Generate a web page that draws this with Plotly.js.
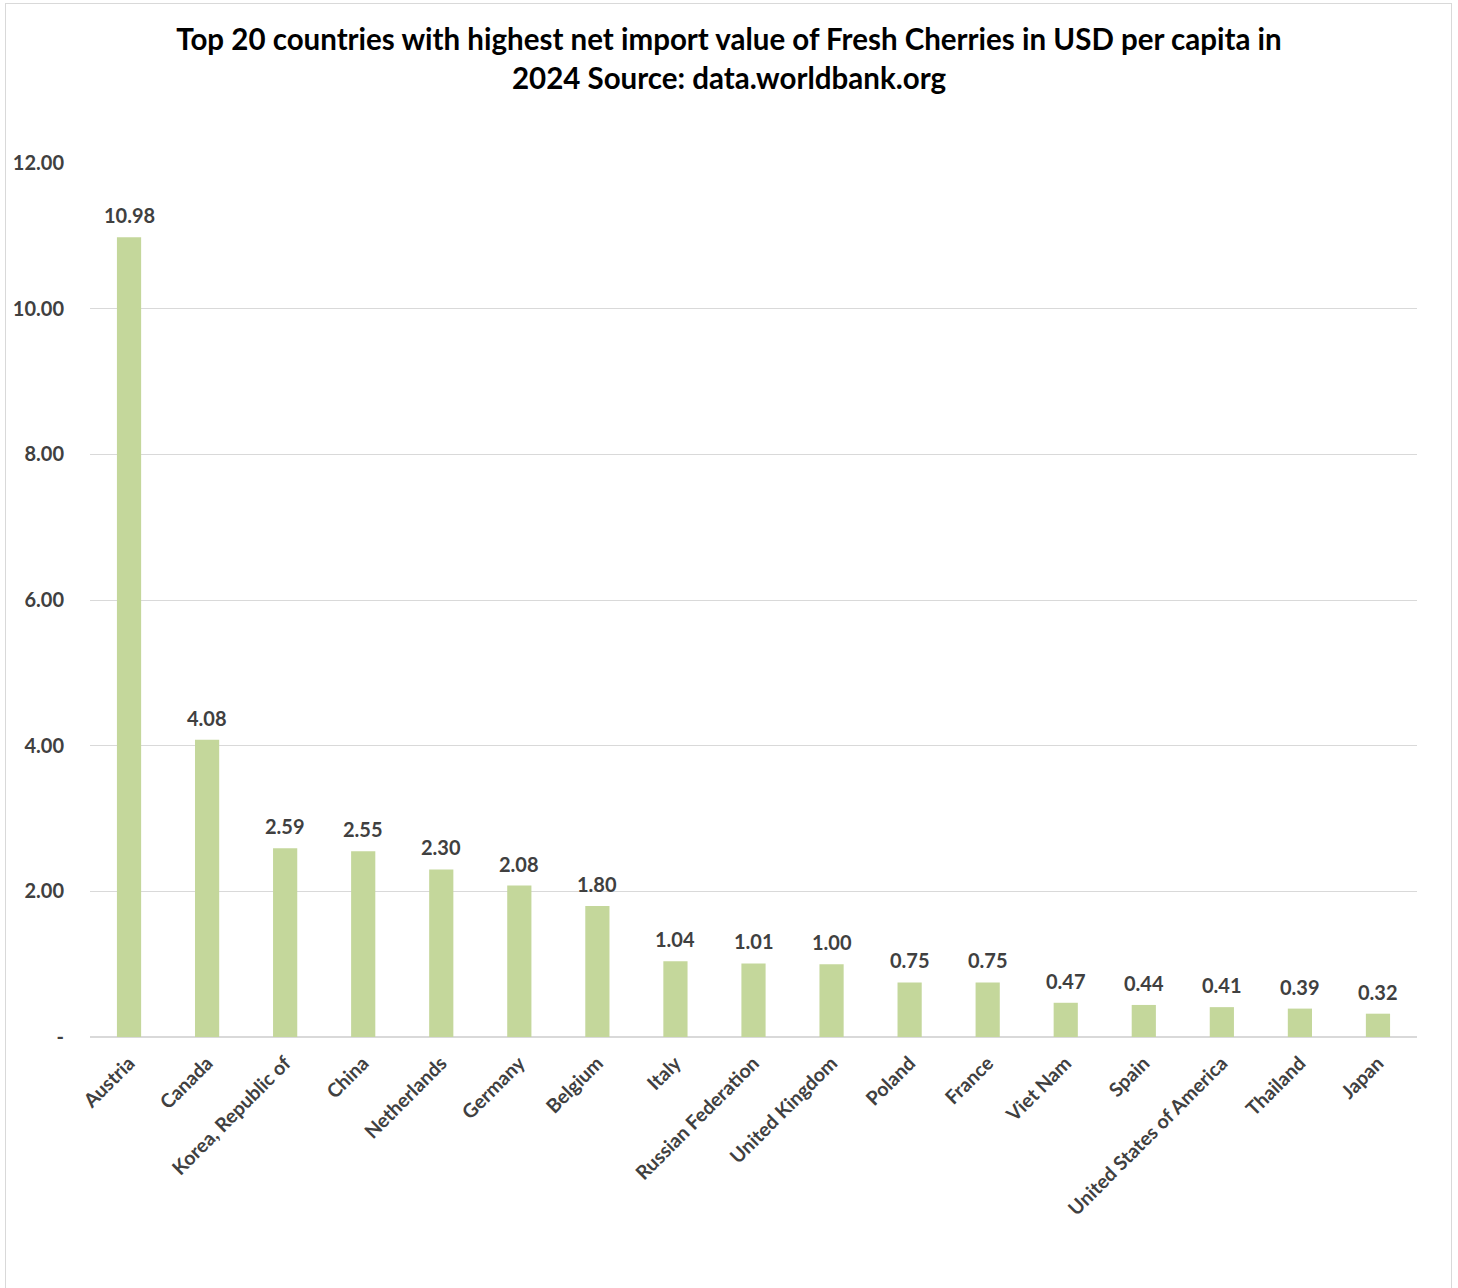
<!DOCTYPE html>
<html>
<head>
<meta charset="utf-8">
<script src="https://cdn.plot.ly/plotly-3.0.1.min.js"></script>
<style>
  html, body { margin: 0; padding: 0; background: #fff; }
  #wrap { position: absolute; left: 5px; top: 3px; width: 1447px; height: 1300px; border: 1px solid #d9d9d9; box-sizing: border-box; }
  #chart { position: absolute; left: 0; top: 0; width: 1458px; height: 1288px; }
</style>
</head>
<body>
<div id="wrap"></div>
<div id="chart"></div>
<script>
const countries = ["Austria", "Canada", "Korea, Republic of", "China", "Netherlands", "Germany", "Belgium", "Italy", "Russian Federation", "United Kingdom", "Poland", "France", "Viet Nam", "Spain", "United States of America", "Thailand", "Japan"];
const values = [10.98, 4.08, 2.59, 2.55, 2.30, 2.08, 1.80, 1.04, 1.01, 1.00, 0.75, 0.75, 0.47, 0.44, 0.41, 0.39, 0.32];
const yTickVals = [0, 2, 4, 6, 8, 10, 12];
const yTickText = ["-", "2.00", "4.00", "6.00", "8.00", "10.00", "12.00"];
const titleText = "Top 20 countries with highest net import value of Fresh Cherries in USD per capita in<br>2024 Source: data.worldbank.org";

const font = "Lato, 'Open Sans', sans-serif";

const trace = {
  type: "bar",
  x: countries,
  y: values,
  marker: { color: "#C4D79B" },
  hoverinfo: "x+y"
};

const labels = countries.map((c, i) => ({
  x: c,
  y: values[i],
  xref: "x",
  yref: "y",
  text: values[i].toFixed(2),
  showarrow: false,
  yanchor: "middle",
  yshift: 22,
  font: { family: font, size: 20, color: "#404040", weight: "bold" }
}));

const layout = {
  width: 1458,
  height: 1288,
  paper_bgcolor: "rgba(0,0,0,0)",
  plot_bgcolor: "rgba(0,0,0,0)",
  margin: { l: 90, r: 41, t: 163, b: 251 },
  bargap: 0.69,
  showlegend: false,
  title: {
    text: titleText,
    font: { family: font, size: 29.5, color: "#000", weight: "bold" },
    x: 0.5, xanchor: "center",
    xref: "container",
    yref: "container",
    y: 0.961, yanchor: "middle"
  },
  annotations: labels,
  xaxis: {
    type: "category",
    tickangle: -45,
    tickfont: { family: font, size: 19.5, color: "#404040", weight: "bold" },
    showgrid: false,
    showline: false,
    ticks: "",
    ticklabelstandoff: 10,
    automargin: false
  },
  yaxis: {
    range: [0, 12],
    tickvals: yTickVals,
    ticktext: yTickText,
    tickfont: { family: font, size: 20, color: "#404040", weight: "bold" },
    showgrid: true,
    gridcolor: "#d9d9d9",
    gridwidth: 1,
    zeroline: true,
    zerolinecolor: "#d9d9d9",
    zerolinewidth: 2,
    showline: false,
    ticks: "",
    ticklabelstandoff: 25,
    automargin: false
  }
};

Plotly.newPlot("chart", [trace], layout, { displayModeBar: false, staticPlot: true });
</script>
</body>
</html>
